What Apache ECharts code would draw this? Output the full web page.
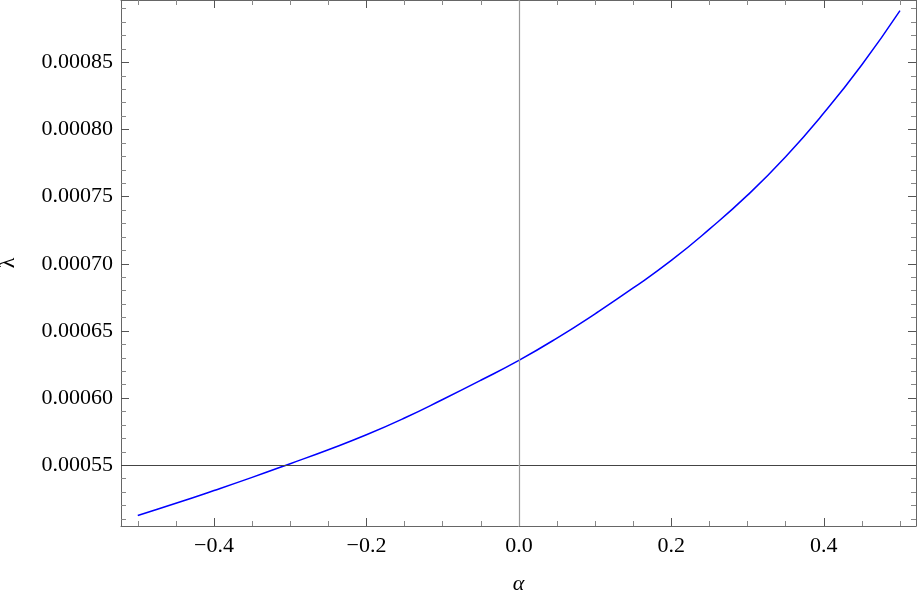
<!DOCTYPE html>
<html>
<head>
<meta charset="utf-8">
<script src="https://cdn.jsdelivr.net/npm/echarts@6/dist/echarts.min.js"></script>
<style>
  html, body { margin: 0; padding: 0; background: #fff; }
  #main { width: 917px; height: 600px; }
</style>
</head>
<body>
<div id="main"></div>
<script>
// values
var alphaVals = [-0.5, -0.45, -0.4, -0.35, -0.3, -0.25, -0.2, -0.15, -0.1, -0.05, 0,
  0.05, 0.1, 0.15, 0.2, 0.25, 0.3, 0.35, 0.4, 0.45, 0.5];
var lambdaVals = [0.0005126, 0.0005217, 0.0005312, 0.0005410, 0.0005512, 0.0005616, 0.0005727,
  0.0005852, 0.0005990, 0.0006133, 0.0006281, 0.0006447, 0.0006628, 0.0006820, 0.0007025,
  0.0007258, 0.0007511, 0.0007797, 0.0008122, 0.0008482, 0.0008885];
var xTicks = [-0.4, -0.2, 0.0, 0.2, 0.4];
var yTicks = [0.00055, 0.00060, 0.00065, 0.00070, 0.00075, 0.00080, 0.00085];
var xMinorTicks = [-0.5, -0.45, -0.35, -0.3, -0.25, -0.15, -0.1, -0.05, 0.05, 0.1, 0.15, 0.25, 0.3, 0.35, 0.45, 0.5];
var yMinorTicks = [0.00051, 0.00052, 0.00053, 0.00054, 0.00056, 0.00057, 0.00058, 0.00059,
  0.00061, 0.00062, 0.00063, 0.00064, 0.00066, 0.00067, 0.00068, 0.00069,
  0.00071, 0.00072, 0.00073, 0.00074, 0.00076, 0.00077, 0.00078, 0.00079,
  0.00081, 0.00082, 0.00083, 0.00084, 0.00086, 0.00087, 0.00088, 0.00089];
var axisOrigin = [0, 0.00055];  // where the plot's axes cross

var xMin = -0.522, xMax = 0.521;
var yMin = 0.0005048, yMax = 0.0008964;
var serif = 'Liberation Serif';

var chart = echarts.init(document.getElementById('main'));

function xAx(pos, ticks, len, color, withLabel, withLine) {
  return {
    type: 'value', position: pos, min: xMin, max: xMax,
    splitLine: { show: false },
    axisLine: { show: withLine, onZero: false, lineStyle: { color: '#666', width: 1 } },
    axisTick: { show: true, inside: true, length: len, customValues: ticks, lineStyle: { color: color } },
    axisLabel: withLabel ? {
      show: true, customValues: ticks, margin: 9, color: '#000',
      fontFamily: serif, fontSize: 22,
      formatter: function (v) { return (v < 0 ? '\u2212' : '') + Math.abs(v).toFixed(1); }
    } : { show: false }
  };
}
function yAx(pos, ticks, len, color, withLabel, withLine) {
  return {
    type: 'value', position: pos, min: yMin, max: yMax,
    splitLine: { show: false },
    axisLine: { show: withLine, onZero: false, lineStyle: { color: '#666', width: 1 } },
    axisTick: { show: true, inside: true, length: len, customValues: ticks, lineStyle: { color: color } },
    axisLabel: withLabel ? {
      show: true, customValues: ticks, margin: 8, color: '#000',
      fontFamily: serif, fontSize: 22,
      formatter: function (v) { return v.toFixed(5); }
    } : { show: false }
  };
}

var xMain = xAx('bottom', xTicks, 8, '#555', true, true);
xMain.name = '\u03b1';
xMain.nameLocation = 'middle';
xMain.nameGap = 47;
xMain.nameTextStyle = { fontFamily: serif, fontSize: 22, fontStyle: 'italic', color: '#000' };

var yMain = yAx('left', yTicks, 8, '#555', true, true);
yMain.name = '\u03bb';
yMain.nameLocation = 'middle';
yMain.nameGap = 102;
yMain.nameRotate = 90;
yMain.nameTextStyle = { fontFamily: serif, fontSize: 22, color: '#000' };

var data = alphaVals.map(function (a, i) { return [a, lambdaVals[i]]; });

chart.setOption({
  animation: false,
  grid: { left: 121, right: 1, top: 0, bottom: 74, containLabel: false, outerBoundsMode: 'none' },
  xAxis: [
    xMain,
    xAx('top', xTicks, 8, '#555', false, true),
    xAx('bottom', xMinorTicks, 5, '#888', false, false),
    xAx('top', xMinorTicks, 5, '#888', false, false)
  ],
  yAxis: [
    yMain,
    yAx('right', yTicks, 8, '#555', false, true),
    yAx('left', yMinorTicks, 5, '#888', false, false),
    yAx('right', yMinorTicks, 5, '#888', false, false)
  ],
  series: [{
    type: 'line',
    xAxisIndex: 0, yAxisIndex: 0,
    data: data,
    smooth: true,
    showSymbol: false,
    lineStyle: { color: '#0000ff', width: 1.5 },
    z: 3,
    markLine: {
      silent: true,
      symbol: 'none',
      label: { show: false },
      animation: false,
      data: [
        [{ coord: [xMin, axisOrigin[1]], lineStyle: { color: '#444', width: 1, type: 'solid' } },
         { coord: [xMax, axisOrigin[1]] }],
        [{ coord: [axisOrigin[0], yMin], lineStyle: { color: '#999', width: 1.2, type: 'solid' } },
         { coord: [axisOrigin[0], yMax] }]
      ]
    }
  }]
});
</script>
</body>
</html>
